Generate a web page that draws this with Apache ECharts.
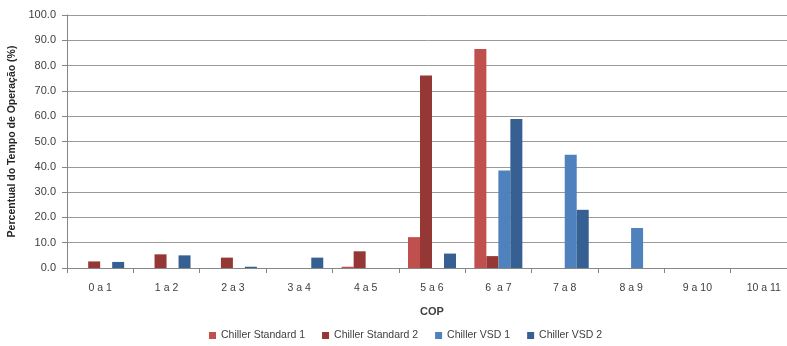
<!DOCTYPE html>
<html><head><meta charset="utf-8">
<script src="https://cdn.jsdelivr.net/npm/echarts@6/dist/echarts.min.js"></script>
<style>html,body{margin:0;padding:0;background:#fff}#c{width:787px;height:346px}</style>
</head><body><div id="c"></div>
<script>
const categories = ['0 a 1','1 a 2','2 a 3','3 a 4','4 a 5','5 a 6','6  a 7','7 a 8','8 a 9','9 a 10','10 a 11'];
const standard1 = [0, 0, 0, 0, 0.5, 12.2, 86.6, 0, 0, 0, 0];
const standard2 = [2.6, 5.4, 4.1, 0, 6.6, 76.1, 4.7, 0, 0, 0, 0];
const vsd1 = [0, 0, 0, 0, 0, 0, 38.5, 44.8, 15.8, 0, 0];
const vsd2 = [2.4, 5.0, 0.5, 4.1, 0, 5.7, 58.9, 23.0, 0, 0, 0];
const seriesNames = ['Chiller Standard 1','Chiller Standard 2','Chiller VSD 1','Chiller VSD 2'];
const colors = ['#C0504D','#953735','#4F81BD','#376092'];
const font = '"Liberation Sans", Arial, sans-serif';
const chart = echarts.init(document.getElementById('c'), null, {renderer:'canvas'});
const mk = (name, data, i) => ({
  name, type:'bar', data, barGap:'0%', barCategoryGap:'27.7%',
  itemStyle:{color:colors[i]}, animation:false
});
chart.setOption({
  animation:false,
  textStyle:{fontFamily:font},
  grid:{left:67, width:730, top:15, bottom:78, outerBoundsMode:'none', containLabel:false},
  legend:{
    bottom:0, left:204, itemWidth:7, itemHeight:7, itemGap:17,
    icon:'rect', textStyle:{fontSize:10.5, color:'#404040', fontFamily:font},
    data:seriesNames
  },
  xAxis:{
    type:'category', data:categories,
    name:'COP', nameLocation:'middle', nameGap:38,
    nameTextStyle:{fontWeight:'bold', fontSize:11, color:'#404040', fontFamily:font},
    axisLine:{lineStyle:{color:'#868686'}},
    axisTick:{show:true, length:5, lineStyle:{color:'#868686'}},
    axisLabel:{fontSize:10.5, color:'#404040', margin:15, interval:0, fontFamily:font}
  },
  yAxis:{
    type:'value', min:0, max:100, interval:10,
    name:'Percentual do Tempo de Operação (%)', nameLocation:'middle', nameGap:47,
    nameTextStyle:{fontWeight:'bold', fontSize:10.5, color:'#262626', fontFamily:font},
    axisLine:{show:true, lineStyle:{color:'#868686'}},
    axisTick:{show:true, length:5, lineStyle:{color:'#868686'}},
    axisLabel:{fontSize:11, color:'#404040', margin:11, formatter:v=>v.toFixed(1), fontFamily:font},
    splitLine:{lineStyle:{color:'#9a9a9a'}}
  },
  series:[mk(seriesNames[0],standard1,0), mk(seriesNames[1],standard2,1), mk(seriesNames[2],vsd1,2), mk(seriesNames[3],vsd2,3)]
});
</script></body></html>
